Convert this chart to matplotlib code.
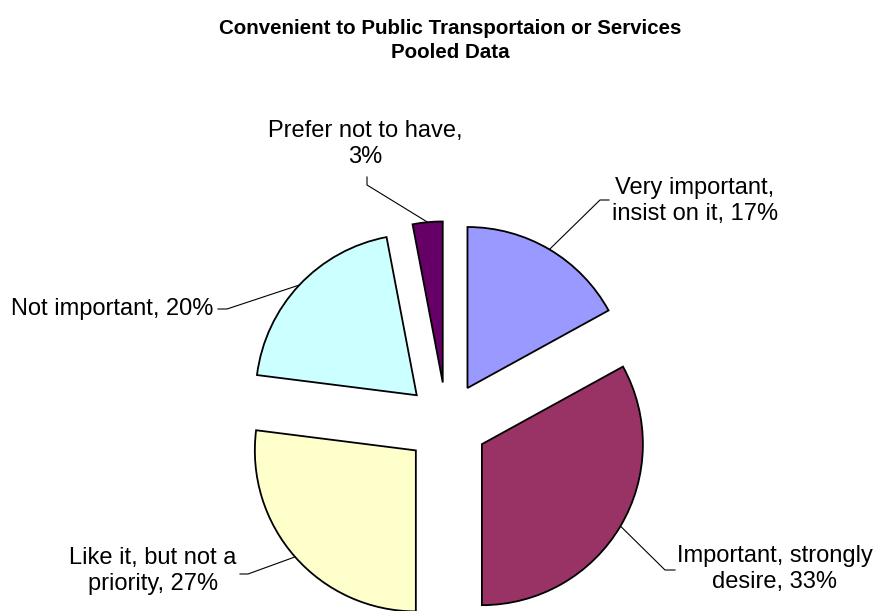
import matplotlib.pyplot as plt
import numpy as np

plt.rcParams['font.family'] = ['Liberation Sans', 'DejaVu Sans']

# data
categories = ["Very important,\ninsist on it, 17%",
              "Important, strongly\ndesire, 33%",
              "Like it, but not a\npriority, 27%",
              "Not important, 20%",
              "Prefer not to have,\n3%"]
shares = [17, 33, 27, 20, 3]
colors = ['#9999FF', '#993366', '#FFFFCC', '#CCFFFF', '#660066']

W, H = 878, 611

# label layout in pixel coords (top-left origin): text xy, alignment, elbow, end of leader
label_xy = [(695, 201), (775, 569), (153, 571), (213, 309), (365, 144)]
label_ha = ['center', 'center', 'center', 'right', 'center']
elbows = [(600, 200), (665, 570), (248, 574), (227, 309), (367, 185)]
ends = [(609, 200), (675, 570), (240, 574), (218, 309), (367, 177)]


def fy(y):
    return H - y


fig = plt.figure(figsize=(W / 100, H / 100), dpi=100)
ax = fig.add_axes([0, 0, 1, 1])

# explode is in data units here (axes are in pixels)
wedges, _ = ax.pie(shares,
                   colors=colors,
                   startangle=90,
                   counterclock=False,
                   explode=[41] * len(shares),
                   radius=161,
                   center=(446.6, fy(423.3)),
                   wedgeprops=dict(edgecolor='black', linewidth=1.3))
ax.set_xlim(0, W)
ax.set_ylim(0, H)
ax.set_aspect('equal')
ax.axis('off')

for w, lab, xy, ha, el, en in zip(wedges, categories, label_xy, label_ha,
                                  elbows, ends):
    mid = np.deg2rad((w.theta1 + w.theta2) / 2)
    cx, cy = w.center
    px = cx + w.r * np.cos(mid)
    py = cy + w.r * np.sin(mid)
    ax.plot([px, el[0], en[0]], [py, fy(el[1]), fy(en[1])],
            color='black', linewidth=0.8, clip_on=False)
    ax.text(xy[0], fy(xy[1]), lab, ha=ha, va='center', fontsize=17,
            linespacing=1.2, clip_on=False)

fig.text(450 / W, 1 - 40.5 / H,
         "Convenient to Public Transportaion or Services\nPooled Data",
         ha='center', va='center', fontsize=14.8, fontweight='bold',
         linespacing=1.38)

fig.savefig('out.png', dpi=100)
